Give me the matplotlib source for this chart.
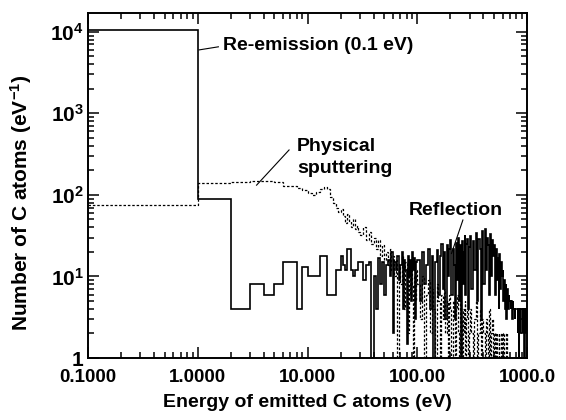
import matplotlib
matplotlib.use('Agg')
import matplotlib.pyplot as plt

# bins: first bin 0.1-1 eV, then 1 eV up to 30, 2 eV up to 100, 5 eV up to 300, 10 eV above
solid_first = [10500]
solid_1ev = [88, 4, 8, 6, 8, 15, 15, 4, 13, 10, 10, 10, 18, 18, 6,
             6, 6, 12, 12, 18, 14, 12, 22, 22, 12, 10, 12, 12, 15]
solid_2ev = [15, 9, 14, 15, 1, 10, 4, 17, 8, 15, 6, 14, 16, 10, 20, 2, 15, 12,
             18, 9, 14, 20, 4, 16, 12, 1.5, 18, 10, 16, 5, 20, 12, 17, 3, 15]
solid_5ev = [16, 5, 20, 8, 14, 22, 4, 18, 1, 15, 21, 6, 18, 25, 7, 20, 3, 24, 10, 22,
             28, 6, 22, 14, 3, 26, 9, 30, 5, 24, 1, 27, 8, 20, 32, 6, 25, 29, 4, 23]
solid_10ev = [31, 7, 27, 12, 34, 5, 29, 22, 3, 36,
              8, 38, 12, 30, 24, 6, 33, 10, 28, 18,
              24, 6, 22, 9, 17, 4, 19, 7, 15, 10,
              12, 5, 9, 4, 8, 3, 7, 4, 6, 5,
              5, 4, 5, 3, 5, 4, 4, 3, 4, 4,
              4, 4, 2, 4, 1, 4, 4, 2, 4, 4,
              4, 2, 4, 4, 1, 4, 4, 2, 4, 4]

sput_first = [75]
sput_1ev = [140, 142, 148, 150, 145, 130, 128, 120, 115, 105, 100, 110, 118, 125, 118,
            95, 80, 70, 62, 68, 55, 45, 58, 48, 40, 50, 38, 42, 35]
sput_2ev = [32, 40, 28, 35, 25, 30, 22, 28, 18, 24, 16, 20, 14, 22, 12, 18, 10, 16,
            1, 14, 8, 18, 12, 4, 15, 10, 2, 12, 6, 14, 8, 1, 10, 5, 12]
sput_5ev = [8, 3, 10, 1, 6, 9, 2, 7, 4, 1, 8, 5, 1, 6, 3, 7, 2, 5, 1, 6,
            4, 1, 5, 3, 1, 4, 6, 2, 1, 5, 3, 1, 4, 2, 5, 1, 3, 4, 1, 2]
sput_10ev = [4, 2, 1, 3, 5, 1, 2, 4, 1, 3, 2, 1, 3, 2, 1, 4, 1, 2, 3, 1,
             2, 1, 2, 1, 1, 2, 1, 1, 2, 1, 1, 2, 1, 1, 1, 2, 1, 1, 1, 1]

x_ticks = [0.1, 1, 10, 100, 1000]
x_ticklabels = ['0.1000', '1.0000', '10.000', '100.00', '1000.0']
y_ticks = [1, 10, 100, 1000, 10000]
y_ticklabels = ['1', r'$10^{1}$', r'$10^{2}$', r'$10^{3}$', r'$10^{4}$']

solid_vals = solid_first + solid_1ev + solid_2ev + solid_5ev + solid_10ev
solid_edges = ([0.1] + list(range(1, 31)) + list(range(32, 101, 2))
               + list(range(105, 301, 5)) + list(range(310, 1001, 10)))
sput_vals = sput_first + sput_1ev + sput_2ev + sput_5ev + sput_10ev
sput_edges = ([0.1] + list(range(1, 31)) + list(range(32, 101, 2))
              + list(range(105, 301, 5)) + list(range(310, 701, 10)))

plt.rcParams['font.family'] = ['Liberation Sans', 'DejaVu Sans']
plt.rcParams['font.weight'] = 'bold'
plt.rcParams['mathtext.fontset'] = 'custom'
plt.rcParams['mathtext.rm'] = 'Liberation Sans:bold'
plt.rcParams['mathtext.bf'] = 'Liberation Sans:bold'
plt.rcParams['mathtext.it'] = 'Liberation Sans:bold'

fig = plt.figure(figsize=(5.66, 4.2), dpi=100)
ax = fig.add_axes([88/566, 1 - 358/420, 439/566, 345/420])

ax.stairs(solid_vals, solid_edges, baseline=None, color='black', lw=1.2)
ax.stairs(sput_vals, sput_edges, baseline=None, color='black', lw=0.9,
          linestyle=(0, (2, 1.5)))

ax.set_xscale('log')
ax.set_yscale('log')
ax.set_xlim(0.1, 1000)
ax.set_ylim(1, 17000)
ax.set_xticks(x_ticks, x_ticklabels)
ax.set_yticks(y_ticks, y_ticklabels)
ax.tick_params(which='both', direction='in', top=True, right=True, width=1.1)
ax.tick_params(which='major', length=8)
ax.tick_params(which='minor', length=4.5)
ax.tick_params(axis='x', pad=8, labelsize=13.5)
ax.tick_params(axis='y', pad=3, labelsize=15)
for s in ax.spines.values():
    s.set_linewidth(1.4)

ax.set_xlabel('Energy of emitted C atoms (eV)', fontsize=14, fontweight='bold',
              labelpad=6)
fig.text(21/566, 1 - 203/420, r'Number of C atoms (eV$^{-1}$)', rotation=90,
         ha='center', va='center', fontsize=15, fontweight='bold')

# labels with leader lines
ax.plot([0.253, 0.297], [0.893, 0.902], color='black', lw=0.8, transform=ax.transAxes)
ax.text(0.307, 0.893, 'Re-emission (0.1 eV)', transform=ax.transAxes, fontsize=14,
        va='baseline')
ax.plot([0.384, 0.458], [0.501, 0.603], color='black', lw=0.8, transform=ax.transAxes)
ax.text(0.476, 0.600, 'Physical', transform=ax.transAxes, fontsize=14, va='baseline')
ax.text(0.476, 0.535, 'sputtering', transform=ax.transAxes, fontsize=14, va='baseline')
ax.plot([0.854, 0.828], [0.400, 0.303], color='black', lw=0.8, transform=ax.transAxes)
ax.text(0.730, 0.414, 'Reflection', transform=ax.transAxes, fontsize=14, va='baseline')

fig.savefig('out.png', dpi=100)
